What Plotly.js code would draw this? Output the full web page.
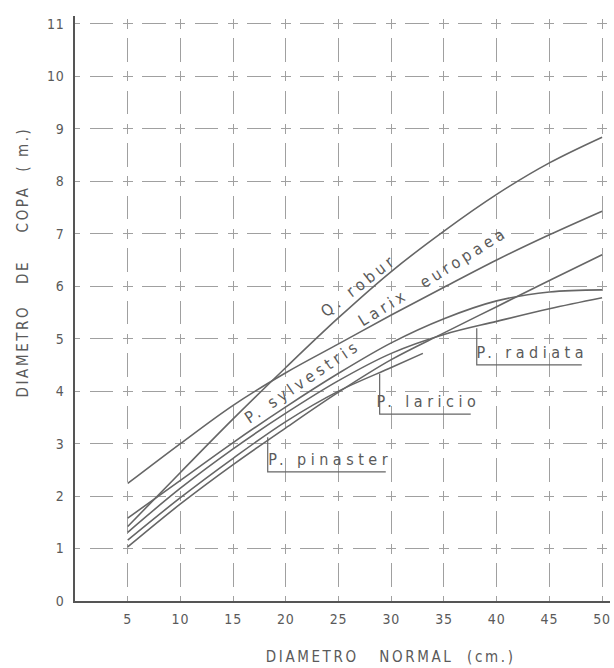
<!DOCTYPE html>
<html><head><meta charset="utf-8">
<script src="https://cdn.plot.ly/plotly-3.0.1.min.js"></script>
<style>body{margin:0;background:#fff}#chart{width:614px;height:668px}</style>
</head><body><div id="chart"></div>
<script>
// ---- data ----
const xFull = [5, 10, 15, 20, 25, 30, 35, 40, 45, 50];
const yQrobur   = [1.42, 2.45, 3.47, 4.45, 5.40, 6.28, 7.05, 7.75, 8.35, 8.84];
const yLarix    = [2.24, 3.00, 3.73, 4.35, 4.90, 5.45, 5.98, 6.50, 6.98, 7.43];
const ySylv     = [1.58, 2.30, 3.02, 3.70, 4.34, 4.92, 5.38, 5.72, 5.89, 5.93];
const yRadiata  = [1.31, 2.15, 2.90, 3.58, 4.20, 4.72, 5.08, 5.33, 5.57, 5.78];
const xLaricio  = [5, 10, 15, 20, 25, 30, 33];
const yLaricio  = [1.16, 1.97, 2.72, 3.42, 4.00, 4.45, 4.72];
const yPinaster = [1.03, 1.85, 2.60, 3.30, 3.98, 4.60, 5.11, 5.61, 6.11, 6.60];

const xTicks = [5, 10, 15, 20, 25, 30, 35, 40, 45, 50];
const yTicks = [0, 1, 2, 3, 4, 5, 6, 7, 8, 9, 10, 11];

const seriesNames = ['Q. robur', 'Larix europaea', 'P. sylvestris', 'P. radiata', 'P. laricio', 'P. pinaster'];

const FONT = '"Liberation Sans Narrow", "DejaVu Sans Condensed", "Liberation Sans", sans-serif';
const INK = '#5a5a5a';
const LINE = '#666666';

function curve(x, y, name) {
  return {x: x, y: y, name: name, type: 'scatter', mode: 'lines',
          line: {color: LINE, width: 1.6, shape: 'spline', smoothing: 1},
          hoverinfo: 'skip', showlegend: false};
}

const traces = [
  curve(xFull, yQrobur, seriesNames[0]),
  curve(xFull, yLarix, seriesNames[1]),
  curve(xFull, ySylv, seriesNames[2]),
  curve(xFull, yRadiata, seriesNames[3]),
  curve(xLaricio, yLaricio, seriesNames[4]),
  curve(xFull, yPinaster, seriesNames[5])
];

// label layout (positions in data units)
const curveLabels = [
  {text: 'Q. robur', x: 26.9, y: 6.02, angle: -38},
  {text: 'Larix\u00a0\u00a0europaea', x: 33.97, y: 6.18, angle: -32},
  {text: 'P. sylvestris', x: 21.6, y: 4.18, angle: -34}
];
const leaderLabels = [
  {text: 'P.\u00a0radiata', x0: 38.11, y0: 5.2, y1: 4.5, x1: 48.07},
  {text: 'P.\u00a0laricio',  x0: 28.9,  y0: 4.33, y1: 3.56, x1: 37.54},
  {text: 'P.\u00a0pinaster', x0: 18.28, y0: 3.12, y1: 2.46, x1: 29.48}
];

const annotations = [];
const spacing = [];
curveLabels.forEach(l => {
  annotations.push({text: l.text, x: l.x, y: l.y, xref: 'x', yref: 'y', showarrow: false,
    textangle: l.angle, font: {family: FONT, size: 16, color: INK}, xanchor: 'center', yanchor: 'middle'});
  spacing.push('4px');
});
const shapes = [];
leaderLabels.forEach(l => {
  shapes.push({type: 'path', xref: 'x', yref: 'y',
    path: 'M' + l.x0 + ',' + l.y0 + ' L' + l.x0 + ',' + l.y1 + ' L' + l.x1 + ',' + l.y1,
    line: {color: LINE, width: 1.2}});
  annotations.push({text: l.text, x: (l.x0 + l.x1) / 2 + 0.3, y: l.y1, xref: 'x', yref: 'y', showarrow: false,
    font: {family: FONT, size: 16, color: INK}, xanchor: 'center', yanchor: 'bottom', yshift: 1});
  spacing.push('4.5px');
});
annotations.push({text: 'DIAMETRO\u00a0\u00a0\u00a0NORMAL\u00a0\u00a0(cm.)', xref: 'paper', yref: 'paper',
  x: 0.589, y: -0.0957, showarrow: false, font: {family: FONT, size: 15, color: INK},
  xanchor: 'center', yanchor: 'middle'});
spacing.push('2.6px');
annotations.push({text: 'DIAMETRO\u00a0\u00a0\u00a0DE\u00a0\u00a0\u00a0\u00a0COPA\u00a0\u00a0(\u00a0m.)', xref: 'paper', yref: 'paper',
  x: -0.097, y: 0.5795, showarrow: false, textangle: -90, font: {family: FONT, size: 15, color: INK},
  xanchor: 'center', yanchor: 'middle'});
spacing.push('2.6px');

const layout = {
  width: 614, height: 668,
  margin: {l: 75, r: 4, t: 16, b: 67, pad: 0},
  paper_bgcolor: '#ffffff', plot_bgcolor: '#ffffff',
  showlegend: false,
  xaxis: {
    range: [0, 50.75], tickvals: xTicks, ticktext: xTicks.map(String),
    showline: true, linecolor: '#555', linewidth: 1.6,
    showgrid: true, gridcolor: '#a0a0a0', gridwidth: 1,
    zeroline: false, ticks: '', ticklabelstandoff: 5,
    tickfont: {family: FONT, size: 14, color: INK},
    fixedrange: true
  },
  yaxis: {
    range: [0, 11.15], tickvals: yTicks, ticktext: yTicks.map(String),
    showline: true, linecolor: '#555', linewidth: 1.6,
    showgrid: true, gridcolor: '#a0a0a0', gridwidth: 1,
    zeroline: false, ticks: '', ticklabelstandoff: 6,
    tickfont: {family: FONT, size: 14, color: INK},
    fixedrange: true
  },
  annotations: annotations,
  shapes: shapes
};

// dash patterns tuned so that dashes cross at every grid intersection
const X_GRID_DASH = '0px,2.9px,10px,9.5px,23.47px,6.6px';
const Y_GRID_DASH = '5px,9.5px,23.65px,9.5px,5px,0px';

Plotly.newPlot('chart', traces, layout, {staticPlot: true}).then(gd => {
  gd.querySelectorAll('g.annotation').forEach(g => {
    const i = +g.getAttribute('data-index');
    const t = g.querySelector('text');
    if (t && spacing[i]) t.style.letterSpacing = spacing[i];
  });
  gd.querySelectorAll('.xtick text, .ytick text').forEach(t => { t.style.letterSpacing = '0.8px'; });
  gd.querySelectorAll('path.xgrid, .gridlayer .x path').forEach(p => { p.style.strokeDasharray = X_GRID_DASH; });
  gd.querySelectorAll('path.ygrid, .gridlayer .y path').forEach(p => { p.style.strokeDasharray = Y_GRID_DASH; });
});
</script>
</body></html>
